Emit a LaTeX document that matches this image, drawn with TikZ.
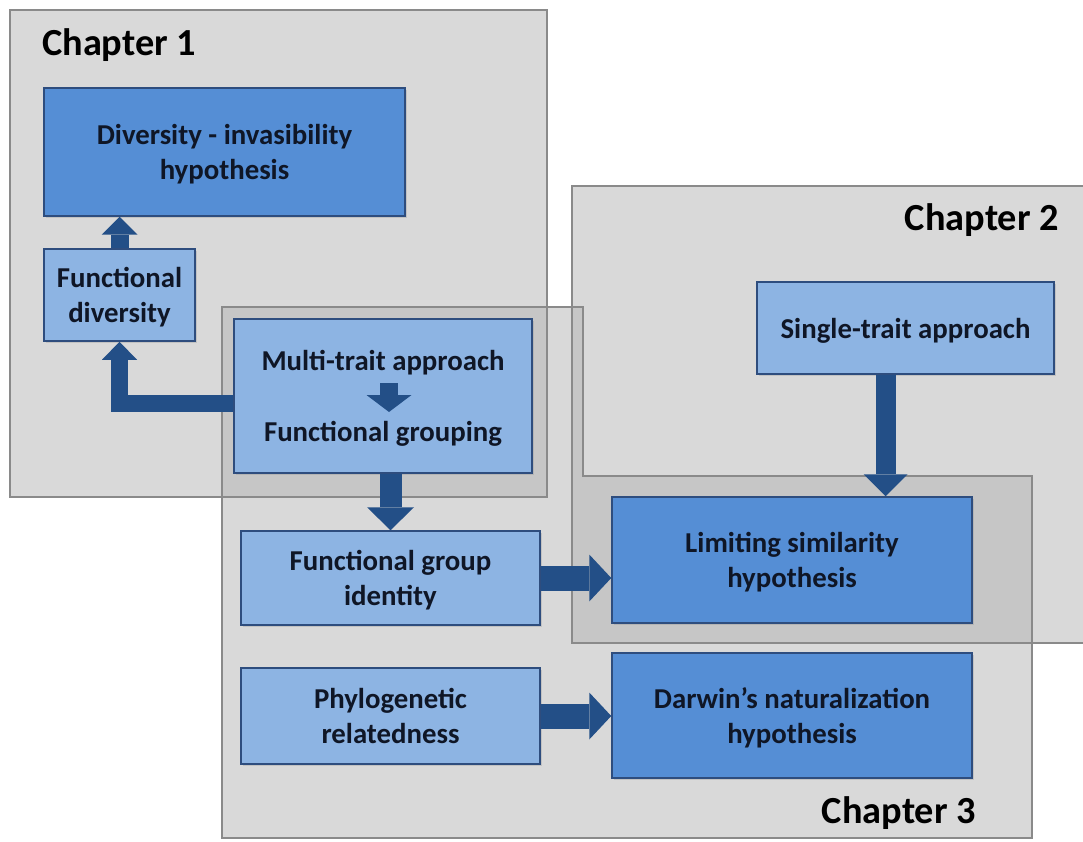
\documentclass[tikz,border=0pt]{standalone}
\usepackage{fontspec}
\setmainfont{Carlito}
\usetikzlibrary{arrows.meta,calc,shadows}
\definecolor{chfill}{HTML}{D9D9D9}
\definecolor{chover}{HTML}{C6C6C6}
\definecolor{chline}{HTML}{8A8A8A}
\definecolor{lightbox}{HTML}{8DB4E3}
\definecolor{darkbox}{HTML}{558ED5}
\definecolor{boxline}{HTML}{2E4D7E}
\definecolor{arrowc}{HTML}{234F87}
\definecolor{txt}{HTML}{0F1626}
\newcommand{\bt}[1]{\raisebox{-3pt}[\height][\depth]{\begin{tabular}{@{}c@{}}#1\end{tabular}}}
\tikzset{
  chline/.style={draw=chline, line width=2.5pt, line join=miter},
  boxbase/.style={draw=boxline, line width=1.5pt, align=center, text=txt,
    font=\fontsize{28.8}{35}\selectfont\bfseries, inner sep=0pt,
    drop shadow={shadow xshift=1.5pt, shadow yshift=-2pt, opacity=0.25}},
  lbox/.style={boxbase, fill=lightbox},
  dbox/.style={boxbase, fill=darkbox},
  chtitle/.style={font=\fontsize{38.3}{44}\selectfont\bfseries, text=black, inner sep=0pt},
  blk/.style n args={3}{draw=arrowc, line width=#1, line join=miter,
    -{Triangle[width=#2, length=#3, line width=0pt, fill=arrowc]}}
}
\begin{document}
\begin{tikzpicture}[x=1pt,y=-1pt]
\useasboundingbox (0,0) rectangle (1083,842);
\clip (0,0) rectangle (1083,842);
% chapter fills
\fill[chfill] (10,10) rectangle (547,497);
\fill[chfill] (572,186) rectangle (1095,643);
\fill[chfill] (222,307) -- (583,307) -- (583,476) -- (1032,476) -- (1032,838) -- (222,838) -- cycle;
% overlaps
\fill[chover] (222,307) rectangle (547,497);
\fill[chover] (572,307) rectangle (583,476);
\fill[chover] (572,476) rectangle (1032,643);
% chapter borders
\draw[chline] (10,10) rectangle (547,497);
\draw[chline] (572,186) rectangle (1095,643);
\draw[chline] (222,307) -- (583,307) -- (583,476) -- (1032,476) -- (1032,838) -- (222,838) -- cycle;
% titles
\node[chtitle, anchor=base west] (t1) at (42,56) {Chapter 1};
\node[chtitle, anchor=base east] (t2) at (1059,231) {Chapter 2};
\node[chtitle, anchor=base east] (t3) at (976,823) {Chapter 3};
% boxes
\node[dbox, minimum width=361pt, minimum height=128pt] (div) at (224.5,152) {\bt{Diversity - invasibility\\hypothesis}};
\node[lbox, minimum width=151pt, minimum height=92pt] (fd) at (119.5,295) {\bt{Functional\\diversity}};
\node[lbox, minimum width=298pt, minimum height=154pt] (multi) at (383,396) {\bt{Multi-trait approach\\[36pt]Functional grouping}};
\node[lbox, minimum width=297pt, minimum height=92pt] (single) at (905.5,328) {\bt{Single-trait approach}};
\node[dbox, minimum width=360pt, minimum height=126pt] (limit) at (792,560) {\bt{Limiting similarity\\hypothesis}};
\node[lbox, minimum width=299pt, minimum height=94pt] (fgi) at (390.5,578) {\bt{Functional group\\identity}};
\node[lbox, minimum width=299pt, minimum height=96pt] (phylo) at (390.5,716) {\bt{Phylogenetic\\relatedness}};
\node[dbox, minimum width=360pt, minimum height=125pt] (darwin) at (792,715.5) {\bt{Darwin’s naturalization\\hypothesis}};
% arrows
\draw[blk={18pt}{36pt}{18pt}] (fd.north) -- (fd.north |- div.south);
\coordinate (mw) at ($(multi.west)+(0,7)$);
\draw[blk={17pt}{35pt}{18pt}] (mw) -| (fd.south);
\coordinate (ma) at ($(multi.center)+(6,-13)$);
\coordinate (mb) at ($(multi.center)+(6,16)$);
\draw[blk={18pt}{45pt}{17pt}] (ma) -- (mb);
\draw[blk={22pt}{47pt}{23pt}] (fgi.north |- multi.south) -- (fgi.north);
\coordinate (s1) at ($(single.south)+(-20,0)$);
\draw[blk={20pt}{44pt}{22pt}] (s1) -- (s1 |- limit.north);
\draw[blk={25pt}{47pt}{22pt}] (fgi.east) -- (fgi.east -| limit.west);
\draw[blk={25pt}{47pt}{22pt}] (phylo.east) -- (phylo.east -| darwin.west);
\end{tikzpicture}
\end{document}
